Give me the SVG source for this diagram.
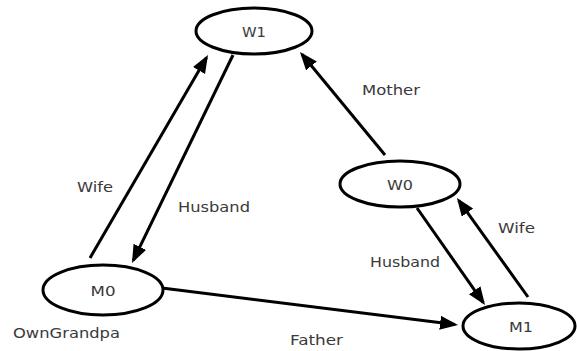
<svg xmlns="http://www.w3.org/2000/svg" width="577" height="351" viewBox="0 0 577 351">
<style>
.node{fill:#fff;stroke:#000;stroke-width:3}
.edge{fill:none;stroke:#000;stroke-width:3}
.nl{font-family:"DejaVu Sans",Verdana,sans-serif;font-size:14px;fill:#3a3a3a;text-anchor:middle}
.el{font-family:"DejaVu Sans",Verdana,sans-serif;font-size:14px;fill:#3a3a3a}
</style>
<defs>
<marker id="ah" markerUnits="userSpaceOnUse" markerWidth="20" markerHeight="16" refX="15" refY="7" orient="auto">
<path d="M0,0 L18,7 L0,14 z" fill="#000"/>
</marker>
</defs>
<rect width="577" height="351" fill="#fff"/>
<g id="connectors">
<line class="edge" x1="90" y1="258" x2="206.5" y2="57.6" marker-end="url(#ah)"/>
<line class="edge" x1="233" y1="55" x2="133.3" y2="260.3" marker-end="url(#ah)"/>
<line class="edge" x1="385" y1="155" x2="301.9" y2="54.3" marker-end="url(#ah)"/>
<line class="edge" x1="417" y1="208" x2="483.3" y2="302.6" marker-end="url(#ah)"/>
<line class="edge" x1="528" y1="297" x2="458.7" y2="200.4" marker-end="url(#ah)"/>
<line class="edge" x1="162" y1="288" x2="455" y2="324.6" marker-end="url(#ah)"/>
<text class="el" x="77" y="192" textLength="36" lengthAdjust="spacingAndGlyphs">Wife</text>
<text class="el" x="178" y="212" textLength="72" lengthAdjust="spacingAndGlyphs">Husband</text>
<text class="el" x="362" y="95" textLength="58" lengthAdjust="spacingAndGlyphs">Mother</text>
<text class="el" x="498" y="233" textLength="37" lengthAdjust="spacingAndGlyphs">Wife</text>
<text class="el" x="370" y="267" textLength="70" lengthAdjust="spacingAndGlyphs">Husband</text>
<text class="el" x="290" y="345" textLength="53" lengthAdjust="spacingAndGlyphs">Father</text>
</g>
<g id="W1">
<ellipse class="node" cx="254" cy="31" rx="58" ry="23"/>
<text class="nl" x="254" y="37" textLength="24" lengthAdjust="spacingAndGlyphs">W1</text>
</g>
<g id="W0">
<ellipse class="node" cx="400" cy="184" rx="60" ry="23"/>
<text class="nl" x="400" y="190" textLength="26" lengthAdjust="spacingAndGlyphs">W0</text>
</g>
<g id="M0">
<ellipse class="node" cx="103" cy="290" rx="60" ry="25"/>
<text class="nl" x="103" y="296" textLength="25" lengthAdjust="spacingAndGlyphs">M0</text>
<text class="el" x="13" y="338" textLength="107" lengthAdjust="spacingAndGlyphs">OwnGrandpa</text>
</g>
<g id="M1">
<ellipse class="node" cx="519" cy="326" rx="56" ry="23"/>
<text class="nl" x="521" y="332" textLength="24" lengthAdjust="spacingAndGlyphs">M1</text>
</g>
</svg>
